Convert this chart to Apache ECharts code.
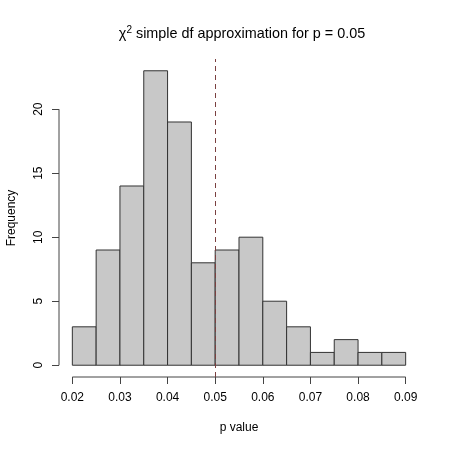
<!DOCTYPE html>
<html>
<head>
<meta charset="utf-8">
<script src="https://cdn.jsdelivr.net/npm/echarts@6/dist/echarts.min.js"></script>
<style>
  html, body { margin: 0; padding: 0; background: #fff; }
  #chart { width: 450px; height: 450px; }
</style>
</head>
<body>
<div id="chart"></div>
<script>
// histogram bins (p value) and counts
var breaks = [0.02, 0.025, 0.03, 0.035, 0.04, 0.045, 0.05, 0.055, 0.06, 0.065, 0.07, 0.075, 0.08, 0.085, 0.09];
var counts = [3, 9, 14, 23, 19, 8, 9, 10, 5, 3, 1, 2, 1, 1];
var xTicks = [0.02, 0.03, 0.04, 0.05, 0.06, 0.07, 0.08, 0.09];
var yTicks = [0, 5, 10, 15, 20];
var cutoff = 0.05;

// R style 4% padding round the data range
var xPad = (breaks[breaks.length - 1] - breaks[0]) * 0.04;
var xMin = breaks[0] - xPad, xMax = breaks[breaks.length - 1] + xPad;
var yTop = Math.max.apply(null, counts);
var yMin = -yTop * 0.04, yMax = yTop * 1.04;

var binData = counts.map(function (c, i) {
    return [breaks[i], breaks[i + 1], c];
});

var font = 'Liberation Sans, Arial, sans-serif';

var option = {
    animation: false,
    title: {
        text: 'χ{sup|2} simple df approximation for p = 0.05',
        left: 237,
        top: 20,
        textAlign: 'center',
        textStyle: {
            fontFamily: font, fontSize: 14.4, fontWeight: 'normal', color: '#000',
            rich: { sup: { fontFamily: font, fontSize: 10, verticalAlign: 'top', padding: [0, 0, 8, 0], color: '#000' } }
        }
    },
    grid: { left: 59, right: 31, top: 59, bottom: 73, containLabel: false, outerBoundsMode: 'none' },
    xAxis: {
        type: 'value', min: xMin, max: xMax,
        name: 'p value', nameLocation: 'middle', nameGap: 45,
        nameTextStyle: { fontFamily: font, fontSize: 12, color: '#000' },
        axisLine: { show: false, onZero: false },
        splitLine: { show: false },
        axisTick: { show: true, length: 7, customValues: xTicks, lineStyle: { color: '#444' } },
        axisLabel: {
            customValues: xTicks, margin: 15, fontFamily: font, fontSize: 12, color: '#000',
            formatter: function (v) { return v.toFixed(2); }
        }
    },
    yAxis: {
        type: 'value', min: yMin, max: yMax,
        name: 'Frequency', nameLocation: 'middle', nameGap: 41, nameRotate: 90,
        nameTextStyle: { fontFamily: font, fontSize: 12, color: '#000' },
        axisLine: { show: false, onZero: false },
        splitLine: { show: false },
        axisTick: { show: true, length: 7, customValues: yTicks, lineStyle: { color: '#444' } },
        axisLabel: { customValues: yTicks, rotate: 90, margin: 14, fontFamily: font, fontSize: 12, color: '#000' }
    },
    series: [{
        name: 'hist',
        type: 'custom',
        data: binData,
        encode: { x: [0, 1], y: 2 },
        renderItem: function (params, api) {
            var p0 = api.coord([api.value(0), 0]);
            var p1 = api.coord([api.value(1), api.value(2)]);
            return {
                type: 'rect',
                shape: { x: p0[0], y: p1[1], width: p1[0] - p0[0], height: p0[1] - p1[1] },
                style: { fill: '#c8c8c8', stroke: '#333', lineWidth: 1 }
            };
        },
        markLine: {
            silent: true, symbol: 'none', label: { show: false },
            lineStyle: { color: '#7a4040', width: 1, type: [5, 4] },
            data: [{ xAxis: cutoff }]
        }
    }, {
        name: 'axes',
        type: 'custom',
        data: [[0]],
        silent: true,
        renderItem: function (params, api) {
            var a = api.coord([xMin, yTicks[0]]), b = api.coord([xMin, yTicks[yTicks.length - 1]]);
            var c = api.coord([xTicks[0], yMin]), d = api.coord([xTicks[xTicks.length - 1], yMin]);
            return {
                type: 'group',
                children: [
                    { type: 'line', shape: { x1: a[0], y1: a[1], x2: b[0], y2: b[1] }, style: { stroke: '#444', lineWidth: 1 } },
                    { type: 'line', shape: { x1: c[0], y1: c[1], x2: d[0], y2: d[1] }, style: { stroke: '#444', lineWidth: 1 } }
                ]
            };
        }
    }]
};

var chart = echarts.init(document.getElementById('chart'));
chart.setOption(option);
</script>
</body>
</html>
